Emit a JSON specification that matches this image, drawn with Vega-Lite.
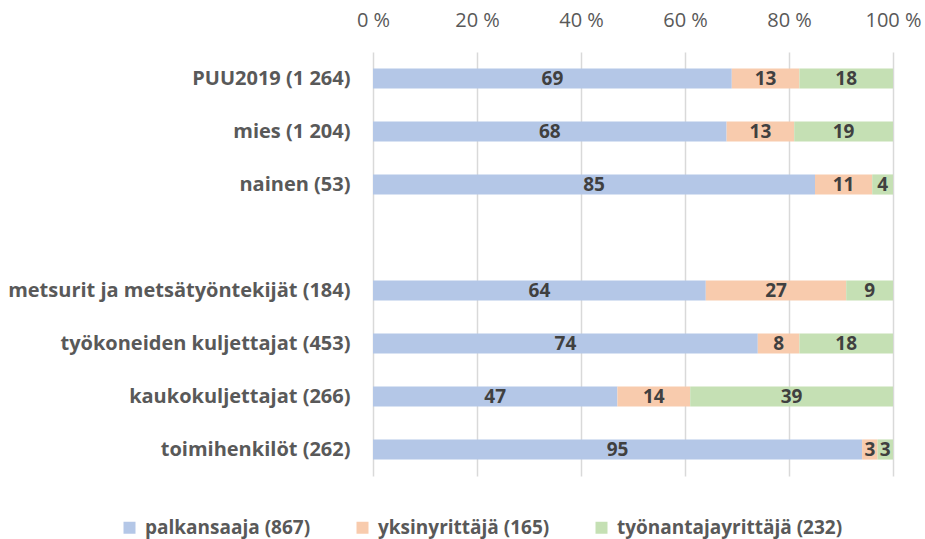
{
  "$schema": "https://vega.github.io/schema/vega-lite/v6.json",
  "width": 520,
  "height": 424,
  "autosize": "none",
  "padding": {"left": 373, "top": 52, "right": 32, "bottom": 63},
  "background": "white",
  "config": {
    "view": {"stroke": null},
    "font": "Open Sans"
  },
  "data": {
    "values": [
      {"c": "PUU2019 (1 264)", "s": "palkansaaja (867)", "v": 69, "j": 1},
      {"c": "PUU2019 (1 264)", "s": "yksinyrittäjä (165)", "v": 13, "j": 2},
      {"c": "PUU2019 (1 264)", "s": "työnantajayrittäjä (232)", "v": 18, "j": 3},
      {"c": "mies (1 204)", "s": "palkansaaja (867)", "v": 68, "j": 1},
      {"c": "mies (1 204)", "s": "yksinyrittäjä (165)", "v": 13, "j": 2},
      {"c": "mies (1 204)", "s": "työnantajayrittäjä (232)", "v": 19, "j": 3},
      {"c": "nainen (53)", "s": "palkansaaja (867)", "v": 85, "j": 1},
      {"c": "nainen (53)", "s": "yksinyrittäjä (165)", "v": 11, "j": 2},
      {"c": "nainen (53)", "s": "työnantajayrittäjä (232)", "v": 4, "j": 3},
      {"c": "metsurit ja metsätyöntekijät (184)", "s": "palkansaaja (867)", "v": 64, "j": 1},
      {"c": "metsurit ja metsätyöntekijät (184)", "s": "yksinyrittäjä (165)", "v": 27, "j": 2},
      {"c": "metsurit ja metsätyöntekijät (184)", "s": "työnantajayrittäjä (232)", "v": 9, "j": 3},
      {"c": "työkoneiden kuljettajat (453)", "s": "palkansaaja (867)", "v": 74, "j": 1},
      {"c": "työkoneiden kuljettajat (453)", "s": "yksinyrittäjä (165)", "v": 8, "j": 2},
      {"c": "työkoneiden kuljettajat (453)", "s": "työnantajayrittäjä (232)", "v": 18, "j": 3},
      {"c": "kaukokuljettajat (266)", "s": "palkansaaja (867)", "v": 47, "j": 1},
      {"c": "kaukokuljettajat (266)", "s": "yksinyrittäjä (165)", "v": 14, "j": 2},
      {"c": "kaukokuljettajat (266)", "s": "työnantajayrittäjä (232)", "v": 39, "j": 3},
      {"c": "toimihenkilöt (262)", "s": "palkansaaja (867)", "v": 95, "j": 1},
      {"c": "toimihenkilöt (262)", "s": "yksinyrittäjä (165)", "v": 3, "j": 2},
      {"c": "toimihenkilöt (262)", "s": "työnantajayrittäjä (232)", "v": 3, "j": 3}
    ]
  },
  "encoding": {
    "y": {
      "field": "c",
      "type": "nominal",
      "scale": {
        "domain": ["PUU2019 (1 264)", "mies (1 204)", "nainen (53)", " ", "metsurit ja metsätyöntekijät (184)", "työkoneiden kuljettajat (453)", "kaukokuljettajat (266)", "toimihenkilöt (262)"],
        "paddingInner": 0.62,
        "paddingOuter": 0.31
      },
      "axis": {
        "title": null,
        "ticks": false,
        "domain": false,
        "labelPadding": 23,
        "labelFont": "Open Sans",
        "labelFontSize": 20,
        "labelFontWeight": "bold",
        "labelColor": "#595959",
        "labelLimit": 400
      }
    },
    "x": {
      "field": "v",
      "type": "quantitative",
      "stack": "normalize",
      "scale": {"domain": [0, 1]},
      "axis": {
        "orient": "top",
        "title": null,
        "values": [0, 0.2, 0.4, 0.6, 0.8, 1],
        "labelExpr": "round(datum.value*100) + ' %'",
        "labelFlush": false,
        "labelOverlap": false,
        "ticks": false,
        "domain": false,
        "grid": true,
        "gridColor": "#d9d9d9",
        "gridWidth": 1.5,
        "labelPadding": 22,
        "labelFont": "Open Sans",
        "labelFontSize": 20,
        "labelColor": "#595959"
      }
    },
    "order": {"field": "j", "type": "quantitative"}
  },
  "layer": [
    {
      "mark": {"type": "bar"},
      "encoding": {
        "color": {
          "field": "s",
          "type": "nominal",
          "scale": {
            "domain": ["palkansaaja (867)", "yksinyrittäjä (165)", "työnantajayrittäjä (232)"],
            "range": ["#b4c7e7", "#f8cbad", "#c5e0b4"]
          },
          "legend": {
            "title": null,
            "orient": "none",
            "direction": "horizontal",
            "legendX": -253,
            "legendY": 466,
            "symbolType": "square",
            "symbolSize": 144,
            "symbolStrokeWidth": 0,
            "labelFont": "Open Sans",
            "labelFontSize": 19,
            "labelFontWeight": "bold",
            "labelColor": "#595959",
            "labelOffset": 6,
            "columnPadding": 42,
            "labelLimit": 300
          }
        }
      }
    },
    {
      "mark": {"type": "text", "font": "Open Sans", "fontSize": 19, "fontWeight": "bold", "color": "#404040", "baseline": "middle", "align": "center"},
      "encoding": {
        "x": {"field": "v", "type": "quantitative", "stack": "normalize", "bandPosition": 0.5},
        "text": {"field": "v", "type": "quantitative"}
      }
    }
  ]
}
